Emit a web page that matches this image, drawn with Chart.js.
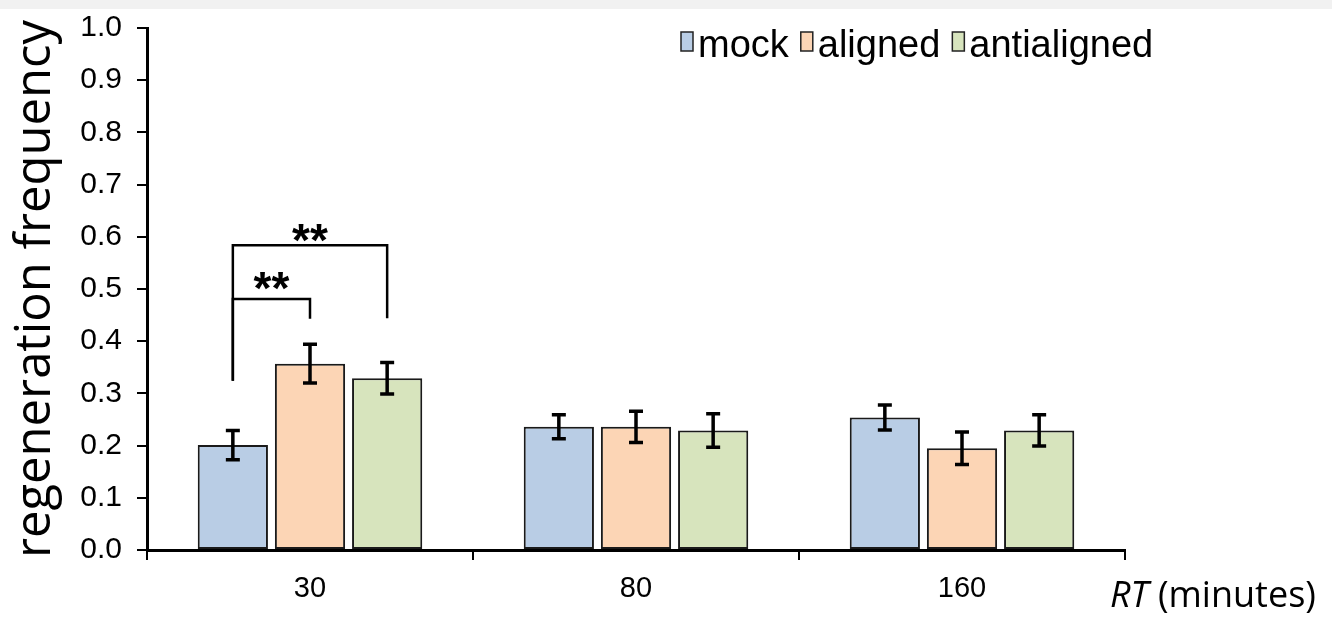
<!DOCTYPE html>
<html>
<head>
<meta charset="utf-8">
<script src="https://cdn.jsdelivr.net/npm/chart.js@4"></script>
<style>
  html, body { margin: 0; padding: 0; background: #fff; }
  canvas { display: block; }
</style>
</head>
<body>
<canvas id="chart" width="1332" height="617"></canvas>
<script>
// Recovery time after treatment, in minutes
const categories = ['30', '80', '160'];
const seriesNames = ['mock', 'aligned', 'antialigned'];

// Mean regeneration frequency per condition
const mockValues = [0.201, 0.236, 0.254];
const alignedValues = [0.357, 0.236, 0.195];
const antialignedValues = [0.329, 0.229, 0.229];

// Standard error for each mean
const mockErrors = [0.028, 0.023, 0.024];
const alignedErrors = [0.037, 0.030, 0.031];
const antialignedErrors = [0.030, 0.032, 0.030];

// Significance brackets: group, first and second series, bracket level, leg ends
const bracketGroups = [0, 0];
const bracketFrom = [0, 0];
const bracketTo = [1, 2];
const bracketLevels = [0.481, 0.584];
const bracketFromEnds = [0.324, 0.324];
const bracketToEnds = [0.443, 0.444];
const bracketLabels = ['**', '**'];
const bracketLabelLevels = [0.521, 0.613];

const fillColors = ['#b9cde5', '#fcd5b5', '#d7e4bd'];
const edgeColor = '#1a1a1a';

const valueSets = [mockValues, alignedValues, antialignedValues];
const errorSets = [mockErrors, alignedErrors, antialignedErrors];

const datasets = seriesNames.map((name, i) => ({
  label: name,
  data: valueSets[i],
  errors: errorSets[i],
  backgroundColor: fillColors[i],
  borderColor: edgeColor,
  borderWidth: 2,
  borderSkipped: false,
  barPercentage: 0.91,
  categoryPercentage: 0.71
}));

// Thin grey strip along the top edge of the figure
const topStrip = {
  id: 'topStrip',
  beforeDraw(chart) {
    const ctx = chart.ctx;
    ctx.save();
    ctx.fillStyle = '#f1f1f1';
    ctx.fillRect(0, 0, chart.width, 9);
    ctx.restore();
  }
};

// Error bars with flat caps
const errorBars = {
  id: 'errorBars',
  afterDatasetsDraw(chart) {
    const ctx = chart.ctx;
    const y = chart.scales.y;
    ctx.save();
    ctx.strokeStyle = '#000';
    ctx.lineWidth = 3.5;
    chart.data.datasets.forEach((ds, di) => {
      const meta = chart.getDatasetMeta(di);
      meta.data.forEach((bar, i) => {
        const v = ds.data[i], e = ds.errors[i];
        const top = y.getPixelForValue(v + e);
        const bot = y.getPixelForValue(v - e);
        const half = 7;
        ctx.beginPath();
        ctx.moveTo(bar.x, top); ctx.lineTo(bar.x, bot);
        ctx.moveTo(bar.x - half, top); ctx.lineTo(bar.x + half, top);
        ctx.moveTo(bar.x - half, bot); ctx.lineTo(bar.x + half, bot);
        ctx.stroke();
      });
    });
    ctx.restore();
  }
};

// Significance brackets with star labels
const brackets = {
  id: 'brackets',
  afterDatasetsDraw(chart) {
    const ctx = chart.ctx;
    const y = chart.scales.y;
    const size = 46;
    ctx.save();
    ctx.strokeStyle = '#000';
    ctx.lineWidth = 2.5;
    ctx.fillStyle = '#000';
    ctx.font = 'bold ' + size + 'px "Liberation Sans"';
    ctx.textAlign = 'center';
    ctx.textBaseline = 'alphabetic';
    bracketLevels.forEach((lvl, k) => {
      const g = bracketGroups[k];
      const x1 = chart.getDatasetMeta(bracketFrom[k]).data[g].x;
      const x2 = chart.getDatasetMeta(bracketTo[k]).data[g].x;
      const yl = y.getPixelForValue(lvl);
      ctx.beginPath();
      ctx.moveTo(x1, y.getPixelForValue(bracketFromEnds[k]));
      ctx.lineTo(x1, yl);
      ctx.lineTo(x2, yl);
      ctx.lineTo(x2, y.getPixelForValue(bracketToEnds[k]));
      ctx.stroke();
      const ly = y.getPixelForValue(bracketLabelLevels[k]);
      ctx.fillText(bracketLabels[k], (x1 + x2) / 2, ly + 0.57 * size);
    });
    ctx.restore();
  }
};

// Legend row above the plot, right side
const legendRow = {
  id: 'legendRow',
  afterDraw(chart) {
    const ctx = chart.ctx;
    ctx.save();
    ctx.font = '38px "Liberation Sans"';
    ctx.textBaseline = 'alphabetic';
    let x = 681;
    const base = 57;
    chart.data.datasets.forEach((ds) => {
      ctx.fillStyle = ds.backgroundColor;
      ctx.fillRect(x, base - 25, 12, 19);
      ctx.strokeStyle = '#222';
      ctx.lineWidth = 1.5;
      ctx.strokeRect(x, base - 25, 12, 19);
      ctx.fillStyle = '#000';
      ctx.fillText(ds.label, x + 17, base);
      x += 17 + ctx.measureText(ds.label).width + 12;
    });
    ctx.restore();
  }
};

// Axis caption with italic variable name
const xCaption = {
  id: 'xCaption',
  afterDraw(chart) {
    const ctx = chart.ctx;
    ctx.save();
    ctx.fillStyle = '#000';
    ctx.textBaseline = 'alphabetic';
    let x = 1110;
    const base = 607;
    ctx.font = 'italic 36px "Open Sans"';
    ctx.fillText('RT', x, base);
    x += ctx.measureText('RT ').width;
    ctx.font = '36px "Open Sans"';
    ctx.fillText('(minutes)', x, base);
    ctx.restore();
  }
};

new Chart(document.getElementById('chart'), {
  type: 'bar',
  data: { labels: categories, datasets },
  options: {
    responsive: false,
    animation: false,
    layout: { padding: { top: 28, right: 207, left: 0, bottom: 0 } },
    plugins: { legend: { display: false }, tooltip: { enabled: false } },
    scales: {
      x: {
        type: 'category',
        offset: true,
        grid: { offset: true, drawOnChartArea: false, drawTicks: true, tickLength: 10, color: '#000', lineWidth: 2 },
        border: { color: '#000', width: 3 },
        ticks: { color: '#000', font: { family: 'Liberation Sans', size: 29 }, padding: 12 },
        afterFit(s) { s.height = 67; }
      },
      y: {
        min: 0,
        max: 1,
        ticks: {
          stepSize: 0.1,
          color: '#000',
          font: { family: 'Liberation Sans', size: 30, lineHeight: 1 },
          padding: 15,
          callback: (v) => v.toFixed(1)
        },
        grid: { drawOnChartArea: false, drawTicks: true, tickLength: 10, color: '#000', lineWidth: 2 },
        border: { color: '#000', width: 3 },
        title: {
          display: true,
          text: 'regeneration frequency',
          color: '#000',
          font: { family: 'Open Sans', size: 49 },
          padding: { top: 7, bottom: 0 }
        },
        afterFit(s) { s.width = 147; s.paddingTop = 0; s.paddingBottom = 0; }
      }
    }
  },
  plugins: [topStrip, errorBars, brackets, legendRow, xCaption]
});
</script>
</body>
</html>
